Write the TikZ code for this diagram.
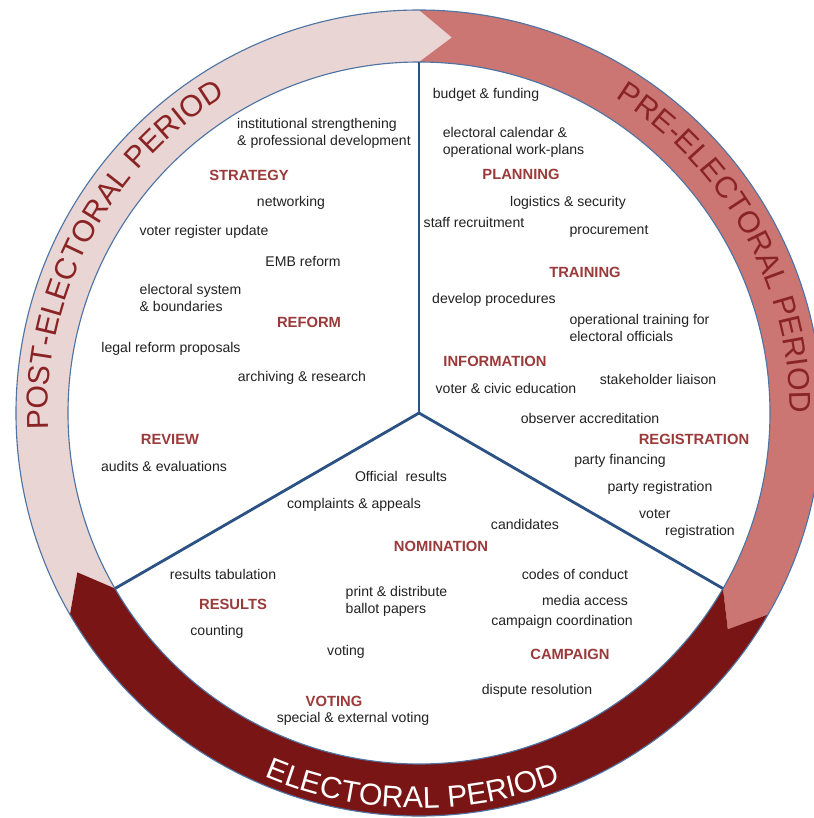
\documentclass[tikz,border=0pt]{standalone}
\usepackage{fontspec}
\setmainfont{Liberation Sans}
\usetikzlibrary{decorations.text}

\definecolor{postpink}{HTML}{EAD5D5}
\definecolor{prepink}{HTML}{CC7674}
\definecolor{elecred}{HTML}{7A1515}
\definecolor{rimblue}{HTML}{4E74A3}
\definecolor{spokeblue}{HTML}{2C5185}
\definecolor{headred}{HTML}{9B3A3A}
\definecolor{textgray}{HTML}{222222}
\definecolor{labelred}{HTML}{8A2424}

\newcommand{\ringfont}{\fontsize{21.5}{21.5}\selectfont}

\begin{document}
\begin{tikzpicture}[x=0.025cm, y=0.025cm,
    item/.style={font=\fontsize{10}{12}\selectfont, text=textgray, align=left, inner sep=0pt},
    phase/.style={font=\fontsize{10.5}{12}\selectfont\bfseries, text=headred, inner sep=0pt}]
    \useasboundingbox (-419,-405) rectangle (395,413);
    \fill[white] (-419,-405) rectangle (395,413);

    % ring of three arrows, each head sits in the next tail
    \fill[postpink] (210:403) arc[start angle=210, end angle=90, radius=403] -- (85:377) -- (90:351)
        arc[start angle=90, end angle=210, radius=351] -- (205:377) -- cycle;
    \fill[prepink] (90:403) arc[start angle=90, end angle=-30, radius=403] -- (-35:377) -- (-30:351)
        arc[start angle=-30, end angle=90, radius=351] -- (85:377) -- cycle;
    \fill[elecred] (-30:403) arc[start angle=-30, end angle=-150, radius=403] -- (-155:377) -- (-150:351)
        arc[start angle=-150, end angle=-30, radius=351] -- (-35:377) -- cycle;
    \draw[rimblue, line width=0.8pt] (0,0) circle[radius=403];
    \draw[rimblue, line width=0.8pt] (0,0) circle[radius=351];

    % period names along the ring
    \path[decorate, decoration={text along path, text align=center,
        text={|\ringfont\color{labelred}|POST-ELECTORAL PERIOD}}]
        (197:371) arc[start angle=197, end angle=107, radius=371];
    \path[decorate, decoration={text along path, text align=center,
        text={|\ringfont\color{labelred}|PRE-ELECTORAL PERIOD}}]
        (74:371) arc[start angle=74, end angle=-16, radius=371];
    \path[decorate, decoration={text along path, text align=center,
        text={|\ringfont\color{white}|ELECTORAL PERIOD}}]
        (-136:395) arc[start angle=-136, end angle=-46, radius=395];

    % spokes
    \coordinate (hub) at (0,0);
    \coordinate (top) at (90:351);
    \coordinate (left) at (210:351);
    \coordinate (right) at (-30:351);
    \draw[spokeblue, line width=2pt] (hub) -- (top);
    \draw[spokeblue, line width=2pt] (hub) -- (left);
    \draw[spokeblue, line width=2pt] (hub) -- (right);

    % post-electoral sector
    \node[item] (inst) at (-95,280) {institutional strengthening\\\& professional development};
    \node[phase] (strategy) at (-170,238) {STRATEGY};
    \node[item] (networking) at (-128,210) {networking};
    \node[item] (regupdate) at (-215,181) {voter register update};
    \node[item] (embreform) at (-116,152) {EMB reform};
    \node[item] (elsystem) at (-228.5,115) {electoral system\\\& boundaries};
    \node[phase] (reform) at (-110,91) {REFORM};
    \node[item] (legal) at (-248,64) {legal reform proposals};
    \node[item] (archiving) at (-117,35) {archiving \& research};
    \node[phase] (review) at (-249,-26) {REVIEW};
    \node[item] (audits) at (-255,-53) {audits \& evaluations};

    % pre-electoral sector
    \node[item] (budget) at (67,318) {budget \& funding};
    \node[item] (calendar) at (94.5,271) {electoral calendar \&\\operational work-plans};
    \node[phase] (planning) at (102,239) {PLANNING};
    \node[item] (logistics) at (149,210) {logistics \& security};
    \node[item] (staff) at (55,191) {staff recruitment};
    \node[item] (procurement) at (190,182) {procurement};
    \node[phase] (training) at (166,141) {TRAINING};
    \node[item] (procedures) at (75,113) {develop procedures};
    \node[item] (optraining) at (220.5,85) {operational training for\\electoral officials};
    \node[phase] (information) at (76,52) {INFORMATION};
    \node[item] (civic) at (87,25) {voter \& civic education};
    \node[item] (liaison) at (239,34) {stakeholder liaison};
    \node[item] (observer) at (171,-5) {observer accreditation};
    \node[phase] (registration) at (275,-26) {REGISTRATION};
    \node[item] (financing) at (201,-48) {party financing};
    \node[item] (partyreg) at (241,-75) {party registration};
    \node[item] (voterreg) at (268,-111) {voter\\\hspace*{0.65cm}registration};

    % electoral sector
    \node[item] (official) at (-18,-63) {Official~~results};
    \node[item] (complaints) at (-65,-92) {complaints \& appeals};
    \node[item] (candidates) at (106,-111) {candidates};
    \node[phase] (nomination) at (22,-133) {NOMINATION};
    \node[item] (tabulation) at (-196,-161) {results tabulation};
    \node[item] (codes) at (156,-161) {codes of conduct};
    \node[item] (ballots) at (-22.5,-188) {print \& distribute\\ballot papers};
    \node[phase] (results) at (-186,-191) {RESULTS};
    \node[item] (media) at (166,-187) {media access};
    \node[item] (coordination) at (143,-209) {campaign coordination};
    \node[item] (counting) at (-202,-219) {counting};
    \node[item] (voting) at (-73,-239) {voting};
    \node[phase] (campaign) at (151,-241) {CAMPAIGN};
    \node[item] (dispute) at (118,-278) {dispute resolution};
    \node[phase] (votingphase) at (-85,-288) {VOTING};
    \node[item] (external) at (-66,-306) {special \& external voting};
\end{tikzpicture}
\end{document}
